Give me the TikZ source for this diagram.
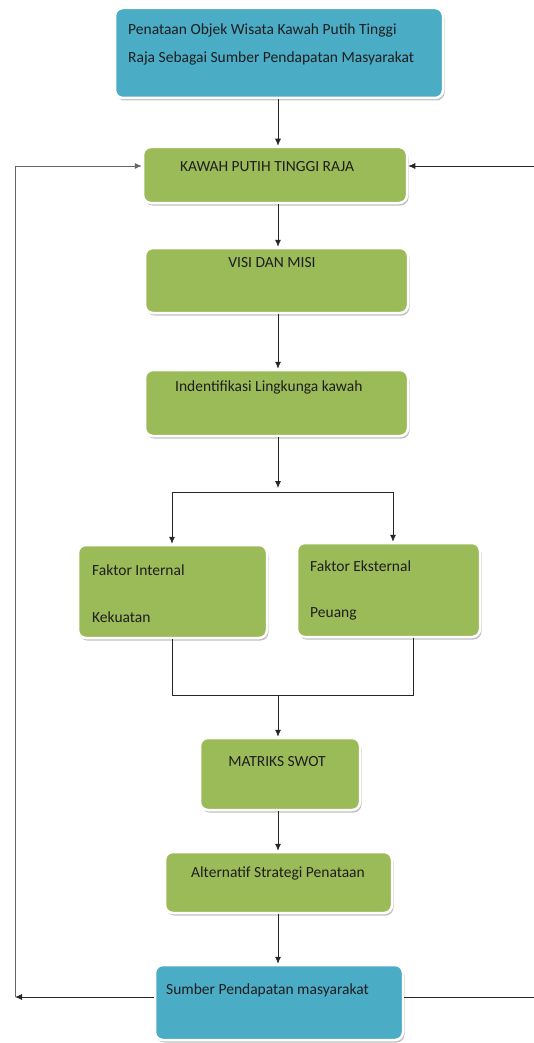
\documentclass[tikz,border=0pt]{standalone}
\usepackage{fontspec}
\setmainfont{Carlito}
\usetikzlibrary{arrows.meta,shadows}
\definecolor{boxblue}{RGB}{75,172,198}
\definecolor{boxgreen}{RGB}{155,187,89}
\definecolor{txtc}{RGB}{30,30,30}
\tikzset{
  basebox/.style={rounded corners=8pt, draw=white, line width=2.5pt, inner sep=0pt,
    drop shadow={shadow xshift=1.5pt, shadow yshift=-2.5pt, opacity=0.35, fill=black!70}},
  bbox/.style={basebox, fill=boxblue},
  gbox/.style={basebox, fill=boxgreen},
  txt/.style={text=txtc, inner sep=0pt, font=\fontsize{15.5}{18}\selectfont},
  arr/.style={-{Latex[length=7pt,width=6pt]}, line width=0.8pt, draw=black!85},
  ln/.style={line width=0.8pt, draw=black!85},
}
\begin{document}
\begin{tikzpicture}[x=1pt,y=-1pt]
\useasboundingbox[fill=white] (0,0) rectangle (534,1043);
% boxes
\node[bbox, minimum width=328pt, minimum height=90pt] (top) at (279,53) {};
\node[gbox, minimum width=264pt, minimum height=56pt] (kawah) at (275,175) {};
\node[gbox, minimum width=263pt, minimum height=65pt] (visi) at (276.5,280.5) {};
\node[gbox, minimum width=263pt, minimum height=66pt] (ident) at (276.5,403) {};
\node[gbox, minimum width=189pt, minimum height=93pt] (fint) at (172.5,591.5) {};
\node[gbox, minimum width=183pt, minimum height=94pt] (fext) at (388.5,590) {};
\node[gbox, minimum width=160pt, minimum height=72pt] (swot) at (280,774) {};
\node[gbox, minimum width=227pt, minimum height=61pt] (alt) at (278.5,882.5) {};
\node[bbox, minimum width=248pt, minimum height=75pt] (sumber) at (279,1002.5) {};
% texts
\node[txt, anchor=west] (t1) at (128,30) {Penataan Objek Wisata Kawah Putih Tinggi};
\node[txt, anchor=west] (t2) at (128,58) {Raja Sebagai Sumber Pendapatan Masyarakat};
\node[txt] (t3) at (267,167) {KAWAH PUTIH TINGGI RAJA};
\node[txt] (t4) at (272,263) {VISI DAN MISI};
\node[txt, anchor=west] (t5) at (175,387) {Indentifikasi Lingkunga kawah};
\node[txt, anchor=west] (t6) at (92,570) {Faktor Internal};
\node[txt, anchor=west] (t7) at (92,617) {Kekuatan};
\node[txt, anchor=west] (t8) at (310,566) {Faktor Eksternal};
\node[txt, anchor=west] (t9) at (310,614) {Peuang};
\node[txt] (t10) at (277,762) {MATRIKS SWOT};
\node[txt] (t11) at (278,873) {Alternatif Strategi Penataan};
\node[txt, anchor=west] (t12) at (166,990) {Sumber Pendapatan masyarakat};
% helper coordinates
\coordinate (cx) at (278,0);
\coordinate (tip) at (278,488);
\coordinate (sL) at (172,492);
\coordinate (sR) at (393,492);
\coordinate (mL) at (172,695);
\coordinate (mR) at (413,695);
\coordinate (lb) at (15,997);
\coordinate (lt) at (15,166);
\coordinate (rb) at (534,997);
\coordinate (rt) at (534,166);
% connectors
\draw[arr] (top.south -| cx) -- (kawah.north -| cx);
\draw[arr] (kawah.south -| cx) -- (visi.north -| cx);
\draw[arr] (visi.south -| cx) -- (ident.north -| cx);
\draw[arr] (ident.south -| cx) -- (tip);
\draw[ln] (sL) -- (sR);
\draw[arr] (sL) -- (fint.north -| sL);
\draw[arr] (sR) -- (fext.north -| sR);
\draw[ln] (fint.south -| mL) -- (mL) -- (mR) -- (fext.south -| mR);
\draw[arr] (mL -| cx) -- (swot.north -| cx);
\draw[arr] (swot.south -| cx) -- (alt.north -| cx);
\draw[arr] (alt.south -| cx) -- (sumber.north -| cx);
\draw[arr] (lb -| sumber.west) -- (lb);
\draw[arr, draw=black!60] (lb) -- (lt) -- (lt -| kawah.west);
\draw[ln] (rb -| sumber.east) -- (rb);
\draw[arr] (rt) -- (rt -| kawah.east);
\end{tikzpicture}
\end{document}
